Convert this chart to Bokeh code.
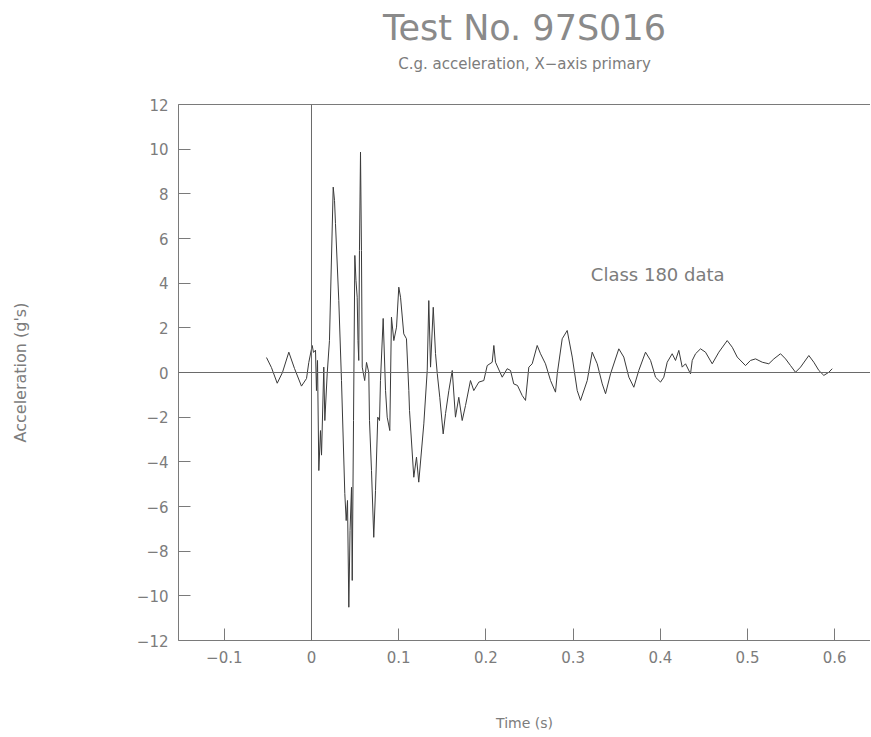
from bokeh.plotting import figure
from bokeh.models import Span, Label, FixedTicker, LinearAxis, Range1d, Title
from bokeh.embed import file_html
from bokeh.resources import INLINE

# ---- data ----
time_s = [-0.0516, -0.0459, -0.0393, -0.0333, -0.0260, -0.0195, -0.0115, -0.0057, -0.0031,
          0.0008, 0.0023, 0.0046, 0.0057, 0.0069, 0.0084, 0.0103, 0.0115, 0.0141, 0.0153,
          0.0180, 0.0206, 0.0249, 0.0264, 0.0275, 0.0313, 0.0344, 0.0382, 0.0398, 0.0413,
          0.0428, 0.0442, 0.0459, 0.0467, 0.0482, 0.0497, 0.0510, 0.0524, 0.0533, 0.0542,
          0.0550, 0.0562, 0.0573, 0.0582, 0.0610, 0.0631, 0.0657, 0.0665, 0.0688, 0.0714,
          0.0734, 0.0760, 0.0780, 0.0791, 0.0822, 0.0849, 0.0868, 0.0898, 0.0917, 0.0944,
          0.0975, 0.1001, 0.1021, 0.1058, 0.1089, 0.1116, 0.1124, 0.1173, 0.1204, 0.1230,
          0.1288, 0.1327, 0.1345, 0.1365, 0.1396, 0.1422, 0.1442, 0.1471, 0.1510, 0.1537,
          0.1575, 0.1614, 0.1651, 0.1689, 0.1728, 0.1766, 0.1823, 0.1861, 0.1919, 0.1976,
          0.2015, 0.2072, 0.2091, 0.2110, 0.2187, 0.2244, 0.2282, 0.2319, 0.2362, 0.2416,
          0.2454, 0.2492, 0.2531, 0.2588, 0.2626, 0.2683, 0.2741, 0.2798, 0.2818, 0.2875,
          0.2932, 0.2990, 0.3047, 0.3085, 0.3162, 0.3219, 0.3276, 0.3334, 0.3372, 0.3429,
          0.3524, 0.3581, 0.3639, 0.3696, 0.3753, 0.3830, 0.3888, 0.3945, 0.4002, 0.4040,
          0.4079, 0.4136, 0.4174, 0.4212, 0.4251, 0.4289, 0.4346, 0.4366, 0.4404, 0.4461,
          0.4518, 0.4595, 0.4671, 0.4767, 0.4825, 0.4882, 0.4977, 0.5034, 0.5092, 0.5169,
          0.5244, 0.5302, 0.5378, 0.5436, 0.5493, 0.5550, 0.5608, 0.5703, 0.5760, 0.5818,
          0.5875, 0.5932, 0.5971]
accel_g = [0.67, 0.22, -0.48, 0.00, 0.91, 0.18, -0.61, -0.27, 0.45,
           1.21, 0.90, 1.00, -0.81, 0.54, -4.39, -2.60, -3.70, 0.24, -2.15,
           -0.06, 1.43, 8.30, 7.70, 6.67, 3.22, -0.36, -5.42, -6.63, -5.73,
           -10.51, -7.08, -5.14, -9.31, -2.15, 5.24, 4.12, 3.37, 1.43, 0.54,
           5.46, 9.87, 5.46, 0.24, -0.36, 0.45, 0.00, -2.15, -4.39, -7.38,
           -5.28, -2.00, -2.15, -0.36, 2.42, -0.81, -2.00, -2.60, 2.48, 1.43,
           2.03, 3.82, 3.37, 1.73, 1.51, -0.81, -1.70, -4.69, -3.79, -4.91,
           -2.30, 0.09, 3.22, 0.24, 2.92, 0.85, -0.04, -1.11, -2.75, -1.84,
           -0.81, 0.09, -2.00, -1.11, -2.15, -1.48, -0.36, -0.81, -0.43, -0.36,
           0.31, 0.46, 1.21, 0.46, -0.21, 0.17, 0.09, -0.51, -0.58, -1.03,
           -1.25, 0.24, 0.39, 1.21, 0.84, 0.39, -0.36, -0.88, -0.06, 1.51,
           1.88, 0.69, -0.81, -1.25, -0.36, 0.91, 0.39, -0.51, -0.95, -0.06,
           1.06, 0.69, -0.21, -0.66, 0.09, 0.91, 0.54, -0.21, -0.43, -0.21,
           0.46, 0.84, 0.54, 0.99, 0.24, 0.39, -0.06, 0.54, 0.84, 1.06,
           0.91, 0.39, 0.91, 1.43, 1.13, 0.69, 0.31, 0.54, 0.61, 0.46,
           0.39, 0.61, 0.84, 0.61, 0.31, 0.01, 0.24, 0.76, 0.46, 0.09,
           -0.13, 0.01, 0.17]

x_ticks = [-0.1, 0.0, 0.1, 0.2, 0.3, 0.4, 0.5, 0.6]
x_tick_labels = ["\u22120.1", "0", "0.1", "0.2", "0.3", "0.4", "0.5", "0.6"]
y_ticks = [-12, -10, -8, -6, -4, -2, 0, 2, 4, 6, 8, 10, 12]
y_tick_labels = ["\u221212", "\u221210", "\u22128", "\u22126", "\u22124", "\u22122",
                 "0", "2", "4", "6", "8", "10", "12"]

title_text = "Test No. 97S016"
subtitle_text = "C.g. acceleration, X\u2212axis primary"
x_label_text = "Time (s)"
y_label_text = "Acceleration (g's)"
note_text = "Class 180 data"

FONT = "DejaVu Sans"
TXT = "#7c7c7c"
AX = "#7a7a7a"

p = figure(width=870, height=736, output_backend="svg", toolbar_location=None,
           x_range=Range1d(-0.1525, 0.641), y_range=Range1d(-12, 12),
           min_border_left=178, min_border_right=0, min_border_top=104,
           min_border_bottom=96)
p.outline_line_color = None
p.grid.visible = False

for ax, ticks, labels in ((p.xaxis[0], x_ticks, x_tick_labels),
                          (p.yaxis[0], y_ticks, y_tick_labels)):
    ax.ticker = FixedTicker(ticks=ticks)
    ax.major_label_overrides = {t: l for t, l in zip(ticks, labels)}
    ax.major_tick_in = 12
    ax.major_tick_out = 0
    ax.minor_tick_in = 0
    ax.minor_tick_out = 0
    ax.axis_line_color = AX
    ax.major_tick_line_color = AX
    ax.major_label_text_font = FONT
    ax.major_label_text_font_size = "15px"
    ax.major_label_text_color = TXT
    ax.major_label_standoff = 10
    ax.axis_label_text_font = FONT
    ax.axis_label_text_font_style = "normal"
    ax.axis_label_text_color = TXT

p.xaxis.axis_label = x_label_text
p.xaxis.axis_label_text_font_size = "14px"
p.xaxis.axis_label_standoff = 49
p.yaxis.axis_label = y_label_text
p.yaxis.axis_label_text_font_size = "16px"
p.yaxis.axis_label_standoff = 104

# top frame line; its (blank) label only reserves space below the subtitle
top_axis = LinearAxis(ticker=FixedTicker(ticks=[]), axis_line_color=AX,
                      major_tick_in=0, major_tick_out=0, minor_tick_in=0, minor_tick_out=0,
                      major_label_text_font_size="0px", major_label_standoff=0,
                      axis_label="\u00a0", axis_label_text_font_size="14px",
                      axis_label_standoff=13)
p.add_layout(top_axis, "above")
p.add_layout(Title(text=subtitle_text, align="center", offset=-10, standoff=0,
                   text_font=FONT, text_font_size="15px", text_font_style="normal",
                   text_color=TXT), "above")
p.title.text = title_text
p.title.align = "center"
p.title.offset = -10
p.title.standoff = 10
p.title.text_font = FONT
p.title.text_font_size = "35px"
p.title.text_font_style = "normal"
p.title.text_color = "#8a8a8a"

p.add_layout(Span(location=0, dimension="height", line_color="#6a6a6a", line_width=1))
p.add_layout(Span(location=0, dimension="width", line_color="#6a6a6a", line_width=1))

p.line(time_s, accel_g, line_color="#3a3a3a", line_width=1)

p.add_layout(Label(x=0.397, y=4.4, text=note_text, text_align="center",
                   text_baseline="middle", text_font=FONT, text_font_size="18px",
                   text_color=TXT))

open("out.html", "w").write(file_html(p, INLINE))
